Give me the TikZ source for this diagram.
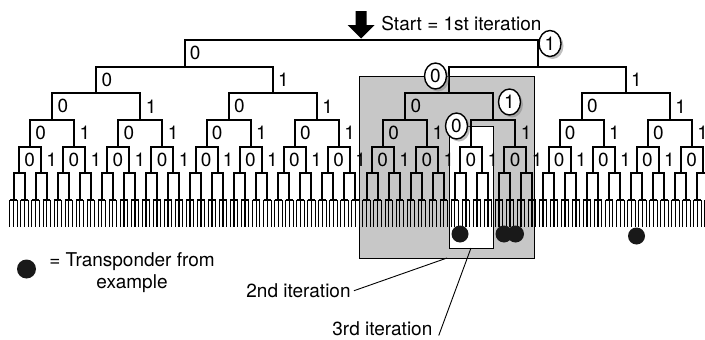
\documentclass[tikz,border=0pt]{standalone}
\usepackage{fontspec}
\setmainfont{TeX Gyre Heros}
\usetikzlibrary{positioning, shapes.geometric, shadows}

\tikzset{
    bit/.style={anchor=west, inner sep=0pt},
    pick/.style={ellipse, draw, line width=1.4pt, fill=white, inner sep=0pt,
        minimum width=22pt, minimum height=26pt,
        drop shadow={shadow xshift=2.5pt, shadow yshift=-2.5pt}},
    tag/.style={inner sep=0pt},
    dot/.style={circle, fill=black!90, inner sep=0pt, minimum size=17pt},
}

\begin{document}
\begin{tikzpicture}[>=latex, thick, x=1pt, y=-1pt, font=\fontsize{19}{22}\selectfont]
    \useasboundingbox (0, 0) rectangle (705, 340);

    % search windows
    \draw [fill=black!22, line width=0.7pt] (359, 76) rectangle (534, 258);
    \draw [fill=white, line width=0.7pt] (449, 126) rectangle (493, 248);
    \coordinate (graybottom) at (447, 258);
    \coordinate (whitebottom) at (471, 248);

    % binary tree, one bar per node
    \foreach \k in {0, ..., 5} {
        \pgfmathsetmacro\w{706/2^\k}
        \pgfmathtruncatemacro\n{2^\k - 1}
        \pgfmathsetmacro\y{40 + 26.67*\k}
        \foreach \i in {0, ..., \n} {
            \pgfmathsetmacro\cx{8 + (\i + 0.5)*\w}
            \draw [line width=2pt]
                (\cx - \w/4, \y + 26.67) |- (\cx + \w/4, \y) --++ (0, 26.67);
        }
    }
    % last split and the comb of leaves
    \foreach \i in {0, ..., 63} {
        \pgfmathsetmacro\cx{8 + (\i + 0.5)*11.03125}
        \draw [line width=0.8pt] (\cx - 3.68, 227) |- (\cx + 3.68, 200) --++ (0, 27);
        \draw [line width=1.5pt] (\cx - 3.68, 200) -- (\cx + 3.68, 200);
        \draw [line width=1.4pt] (\cx, 200) -- (\cx, 227);
    }

    % branch bits
    \foreach \k in {0, ..., 4} {
        \pgfmathsetmacro\w{706/2^\k}
        \pgfmathtruncatemacro\n{2^\k - 1}
        \pgfmathsetmacro\y{40 + 26.67*\k}
        \foreach \i in {0, ..., \n} {
            \pgfmathsetmacro\cx{8 + (\i + 0.5)*\w}
            \pgfmathtruncatemacro\skipzero{(\k==1 && \i==1) || (\k==3 && \i==5)}
            \pgfmathtruncatemacro\skipone{(\k==0 && \i==0) || (\k==2 && \i==2)}
            \ifnum\skipzero=0
                \node [bit] (b\k-\i-0) at (\cx - \w/4 + 5, \y + 13) {0};
            \fi
            \ifnum\skipone=0
                \node [bit] (b\k-\i-1) at (\cx + \w/4 + 5, \y + 13) {1};
            \fi
        }
    }

    % bits picked on the way down
    \node [pick] (pick0) at (550, 43.5) {1};
    \node [pick] (pick1) at (435.5, 76) {0};
    \node [pick] (pick2) at (509.5, 102) {1};
    \node [pick] (pick3) at (456.5, 126) {0};

    % start arrow
    \fill (355.5, 11) -- (366.5, 11) -- (366.5, 25) -- (374.5, 25)
        -- (361, 38.5) -- (347.5, 25) -- (355.5, 25) -- cycle;
    \node [tag, anchor=base west] (start) at (381, 30.5) {Start = 1st iteration};

    % transponders
    \node [dot] (tp1) at (460, 234) {};
    \node [dot] (tp2) at (504, 234) {};
    \node [dot] (tp3) at (515.5, 234) {};
    \node [dot] (tp4) at (636.5, 236) {};

    % legend
    \node [dot, minimum size=19pt] (key) at (26.5, 269) {};
    \node [tag, align=center] (keytext) at (132, 273) {= Transponder from\\example};

    % iteration labels
    \node [tag, anchor=base west] (second) at (246, 297.5) {2nd iteration};
    \node [tag, anchor=base west] (third) at (332, 335.5) {3rd iteration};
    \draw [line width=0.9pt] ([xshift=3pt]second.east) -- (graybottom);
    \draw [line width=0.9pt] ([xshift=6pt]third.base east) -- (whitebottom);
\end{tikzpicture}
\end{document}
